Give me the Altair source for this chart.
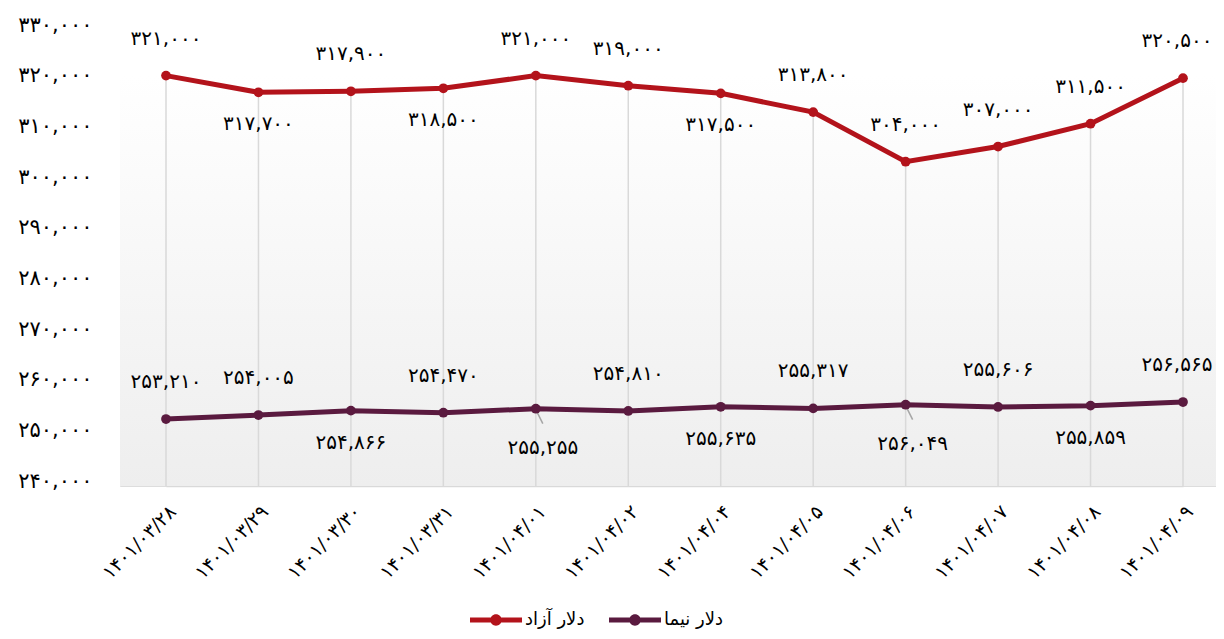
import altair as alt
import pandas as pd

# ---------------- data ----------------
dates = ["۱۴۰۱/۰۳/۲۸", "۱۴۰۱/۰۳/۲۹", "۱۴۰۱/۰۳/۳۰", "۱۴۰۱/۰۳/۳۱", "۱۴۰۱/۰۴/۰۱", "۱۴۰۱/۰۴/۰۲",
         "۱۴۰۱/۰۴/۰۴", "۱۴۰۱/۰۴/۰۵", "۱۴۰۱/۰۴/۰۶", "۱۴۰۱/۰۴/۰۷", "۱۴۰۱/۰۴/۰۸", "۱۴۰۱/۰۴/۰۹"]
free_usd = [321000, 317700, 317900, 318500, 321000, 319000, 317500, 313800, 304000, 307000, 311500, 320500]
nima_usd = [253210, 254005, 254866, 254470, 255255, 254810, 255635, 255317, 256049, 255606, 255859, 256565]
series_names = ["دلار آزاد", "دلار نیما"]
y_ticks = [240000, 250000, 260000, 270000, 280000, 290000, 300000, 310000, 320000, 330000]

# ---------------- styles ----------------
series_colors = ["#b3131b", "#5a1a3f"]
free_label_side = ["above", "below", "above", "below", "above", "above", "below", "above", "above", "above", "above", "above_end"]
nima_label_side = ["above", "above", "below", "above", "leader", "above", "below", "above", "leader", "above", "below", "above_end"]

FONT = "DejaVu Sans"
W, H = 1096, 456
FA = str.maketrans("0123456789", "۰۱۲۳۴۵۶۷۸۹")


def fa(n):
    return f"{n:,}".translate(FA)


rows = []
for name, vals, sides in [(series_names[0], free_usd, free_label_side),
                          (series_names[1], nima_usd, nima_label_side)]:
    for d, v, s in zip(dates, vals, sides):
        rows.append({"date": d, "series": name, "value": v, "label": fa(v), "side": s})
df = pd.DataFrame(rows)

base = alt.Chart(df)
x_enc = alt.X("date:N", sort=dates,
              scale=alt.Scale(type="point", range=[46, 1063], padding=0),
              axis=alt.Axis(title=None, labelAngle=-45, labelFontSize=19, labelFont=FONT,
                            labelColor="#000000", ticks=False, tickSize=0, grid=False,
                            domainColor="#d9d9d9", domainWidth=1.5, labelPadding=16))
y_expr = "format(datum.value, ',')"
for i in range(10):
    y_expr = f"replace({y_expr}, regexp('{i}', 'g'), '{str(i).translate(FA)}')"
y_enc = alt.Y("value:Q",
              scale=alt.Scale(domain=[240000, 330000], nice=False, zero=False),
              axis=alt.Axis(title=None, values=y_ticks, labelExpr=y_expr, grid=False, domain=False,
                            ticks=False, tickSize=0, labelPadding=28, labelFontSize=21,
                            labelFont=FONT, labelColor="#000000", labelBaseline="middle",
                            labelOffset=-5))
color_scale = alt.Scale(domain=series_names, range=series_colors)

legend_symbol = ("M -1 -0.1 L 1 -0.1 L 1 0.1 L -1 0.1 Z "
                 "M 0.22 0 A 0.22 0.22 0 1 1 -0.22 0 A 0.22 0.22 0 1 1 0.22 0 Z")
legend = alt.Legend(title=None, orient="none", legendX=350, legendY=564,
                    direction="horizontal", symbolType=legend_symbol,
                    symbolSize=2704, symbolStrokeWidth=0, labelFontSize=18,
                    labelFont=FONT, labelColor="#000000", labelOffset=3,
                    columnPadding=24)

bg = alt.Chart(alt.Data(values=[{}])).mark_rect(
    color=alt.LinearGradient(gradient="linear",
                             stops=[alt.GradientStop(color="#ffffff", offset=0),
                                    alt.GradientStop(color="#ffffff", offset=0.1),
                                    alt.GradientStop(color="#eeeeee", offset=1)],
                             x1=0, x2=0, y1=0, y2=1)
).encode(x=alt.value(0), x2=alt.value(W), y=alt.value(0), y2=alt.value(H))

drops = base.transform_filter(alt.datum.series == series_names[0]).mark_rule(
    color="#d9d9d9", strokeWidth=1.5
).encode(x=x_enc, y=y_enc, y2=alt.value(H))

lines = base.mark_line(strokeWidth=5).encode(
    x=x_enc, y=y_enc, color=alt.Color("series:N", scale=color_scale, legend=legend))

points = base.mark_circle(size=95, opacity=1).encode(
    x=x_enc, y=y_enc, color=alt.Color("series:N", scale=color_scale, legend=legend))

leaders = base.transform_filter(alt.datum.side == "leader").mark_rule(
    color="#a6a6a6", strokeWidth=1.5, xOffset=1, x2Offset=7, yOffset=3, y2Offset=15
).encode(x=x_enc, x2="date:N", y=y_enc, y2="value:Q")

text_common = dict(fontSize=20, font=FONT, color="#000000", align="center", baseline="middle")
labels_above = base.transform_filter(alt.datum.side == "above").mark_text(dy=-37, **text_common).encode(
    x=x_enc, y=y_enc, text="label:N")
labels_above_end = base.transform_filter(alt.datum.side == "above_end").mark_text(dy=-37, dx=-6, **text_common).encode(
    x=x_enc, y=y_enc, text="label:N")
labels_below = base.transform_filter(alt.datum.side == "below").mark_text(dy=32, **text_common).encode(
    x=x_enc, y=y_enc, text="label:N")
labels_leader = base.transform_filter(alt.datum.side == "leader").mark_text(dy=39, dx=7, **text_common).encode(
    x=x_enc, y=y_enc, text="label:N")

chart = alt.layer(bg, drops, lines, leaders, points, labels_above, labels_above_end, labels_below,
                  labels_leader).properties(
    width=W, height=H, autosize="none",
    padding={"left": 112, "top": 22, "right": 0, "bottom": 145}
).configure_view(stroke=None).configure(font=FONT, background="#ffffff")

chart.save("out.html", embed_options={"renderer": "svg", "actions": False})
